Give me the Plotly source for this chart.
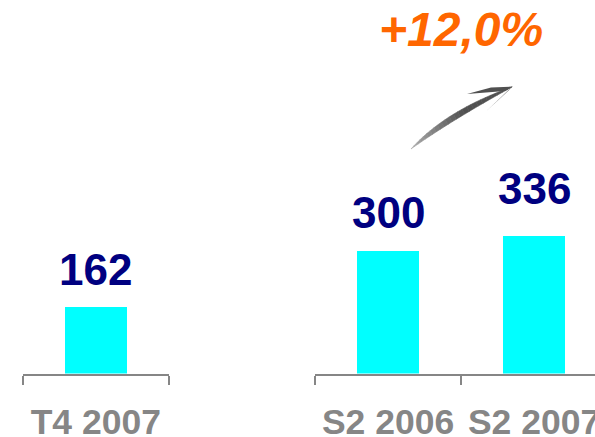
import plotly.graph_objects as go

# Data
left_categories = ["T4 2007"]
left_values = [162]
right_categories = ["S2 2006", "S2 2007"]
right_values = [300, 336]
growth_label = "+12,0%"

W, H = 595, 437
FONT = "Liberation Sans, Arial, sans-serif"
BAR_COLOR = "#00FFFF"
LABEL_COLOR = "#000080"
AXIS_COLOR = "#868686"


def px(x, y):
    return x / W, 1 - y / H


def path(points):
    pts = [px(*p) for p in points]
    s = "M %.5f,%.5f" % pts[0]
    for p in pts[1:]:
        s += " L %.5f,%.5f" % p
    return s + " Z"


fig = go.Figure()
fig.add_trace(go.Bar(x=left_categories, y=left_values, width=0.42,
                     marker=dict(color=BAR_COLOR, line=dict(width=0)),
                     xaxis="x", yaxis="y", hoverinfo="skip"))
fig.add_trace(go.Bar(x=right_categories, y=right_values, width=0.42,
                     marker=dict(color=BAR_COLOR, line=dict(width=0)),
                     xaxis="x2", yaxis="y", hoverinfo="skip"))

# value labels
gaps = {"T4 2007": 22, "S2 2006": 23, "S2 2007": 32}
for cats, vals, xr in ((left_categories, left_values, "x"),
                       (right_categories, right_values, "x2")):
    for c, v in zip(cats, vals):
        fig.add_annotation(x=c, y=v, xref=xr, yref="y", text="<b>%d</b>" % v,
                           showarrow=False, yanchor="bottom", xanchor="center",
                           yshift=gaps[c] - 11,
                           font=dict(family=FONT, size=44, color=LABEL_COLOR))

# growth label
gx, gy = px(461, 29)
fig.add_annotation(x=gx, y=gy, xref="paper", yref="paper",
                   text="<b><i>%s</i></b>" % growth_label, showarrow=False,
                   xanchor="center", yanchor="middle",
                   font=dict(family=FONT, size=48, color="#FF6600"))

# curved arrow (decoration), drawn as tapered stroke with a light-to-dark fade
def bez(p0, c, p2, t):
    x = (1 - t) ** 2 * p0[0] + 2 * (1 - t) * t * c[0] + t ** 2 * p2[0]
    y = (1 - t) ** 2 * p0[1] + 2 * (1 - t) * t * c[1] + t ** 2 * p2[1]
    return (x, y)

tail, tip = (411, 149), (512, 87)
c_up, c_lo = (445.5, 110.5), (451.0, 120.5)
N = 24
for i in range(N):
    t0, t1 = i / N, (i + 1) / N
    quad = [bez(tail, c_up, tip, t0), bez(tail, c_up, tip, t1),
            bez(tail, c_lo, tip, t1), bez(tail, c_lo, tip, t0)]
    g = int(175 - 95 * min(1.0, (t0 + 0.5 / N) / 0.6))
    col = "rgb(%d,%d,%d)" % (g, g, g)
    fig.add_shape(type="path", xref="paper", yref="paper", path=path(quad),
                  fillcolor=col, line=dict(width=0.6, color=col), layer="above")
fig.add_shape(type="path", xref="paper", yref="paper",
              path=path([(513, 86.5), (487, 110.5), (508, 90.5)]),
              fillcolor="#505050", line=dict(width=0), layer="above")
fig.add_shape(type="path", xref="paper", yref="paper",
              path=path([(467, 94), (491, 87.5), (513, 86.5), (505, 91)]),
              fillcolor="#505050", line=dict(width=0), layer="above")

axis_common = dict(type="category", showline=True, linecolor=AXIS_COLOR, linewidth=2,
                   ticks="outside", tickson="boundaries", ticklen=9, tickwidth=2,
                   tickcolor=AXIS_COLOR, showgrid=False, zeroline=False, fixedrange=True,
                   tickfont=dict(family=FONT, size=35.5, color=AXIS_COLOR, weight="bold"),
                   anchor="y", ticklabelstandoff=16, ticklabeloverflow="allow")

fig.update_layout(
    autosize=True,
    margin=dict(l=0, r=0, t=0, b=0, autoexpand=False),
    paper_bgcolor="white", plot_bgcolor="white",
    showlegend=False, bargap=0,
    xaxis=dict(domain=[22.5 / W, 169 / W], range=[-0.5, 0.5], **axis_common),
    xaxis2=dict(domain=[315 / W, 1], range=[-0.5, -0.5 + (W - 315) / 146], **axis_common),
    yaxis=dict(domain=[(H - 373.5) / H, 1], range=[0, 373.5 / 0.4085], visible=False,
               fixedrange=True, anchor="x"),
)

fig.write_html(
    "out.html", config={"displayModeBar": False, "responsive": True},
    default_width="100vw", default_height="100vh",
    post_script=("var d=document.getElementById('{plot_id}');"
                 "d.style.position='fixed';d.style.top='0px';d.style.left='0px';"
                 "document.body.style.margin='0';"
                 "document.documentElement.style.overflow='hidden';"
                 "document.body.style.overflow='hidden';window.scrollTo(0,0);"))
